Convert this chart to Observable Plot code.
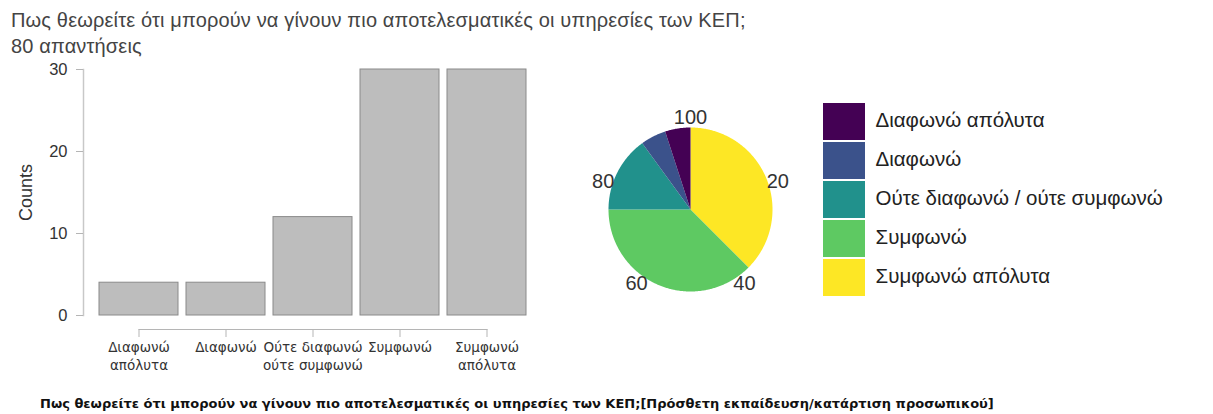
<!DOCTYPE html>
<html><head><meta charset="utf-8">
<script src="https://cdn.jsdelivr.net/npm/d3@7"></script>
<script src="https://cdn.jsdelivr.net/npm/@observablehq/plot@0.6"></script>
<style>
body{margin:0;background:#fff;font-family:"Liberation Sans",Arial,sans-serif;}
#root{position:relative;width:1213px;height:414px;overflow:hidden;background:#fff;}
.abs{position:absolute;}
#title{left:11px;top:7px;font-size:20px;letter-spacing:0.15px;color:#444;white-space:nowrap;line-height:26px;}
#caption{left:40px;top:396px;font-family:"DejaVu Sans",sans-serif;font-size:13px;font-weight:bold;color:#111;white-space:nowrap;}
</style></head><body>
<div id="root">
 <div id="title" class="abs"></div>
 <div id="bars" class="abs" style="left:0;top:0"></div>
 <div id="pie" class="abs" style="left:570px;top:89px"></div>
 <div id="legend" class="abs" style="left:810px;top:90px"></div>
 <div id="caption" class="abs"></div>
</div>
<script>
const titleText = "Πως θεωρείτε ότι μπορούν να γίνουν πιο αποτελεσματικές οι υπηρεσίες των ΚΕΠ;";
const subtitleText = "80 απαντήσεις";
const captionText = "Πως θεωρείτε ότι μπορούν να γίνουν πιο αποτελεσματικές οι υπηρεσίες των ΚΕΠ;[Πρόσθετη εκπαίδευση/κατάρτιση προσωπικού]";
const categories = ["Διαφωνώ απόλυτα","Διαφωνώ","Ούτε διαφωνώ / ούτε συμφωνώ","Συμφωνώ","Συμφωνώ απόλυτα"];
const barTickLabels = ["Διαφωνώ\nαπόλυτα","Διαφωνώ","Ούτε διαφωνώ\nούτε συμφωνώ","Συμφωνώ","Συμφωνώ\nαπόλυτα"];
const counts = [4,4,12,30,30];
const yTicks = [0,10,20,30];
const yLabel = "Counts";
const pieTicks = [20,40,60,80,100];
const colors = ["#440154","#3b528b","#21918c","#5ec962","#fde725"];

document.getElementById("title").innerHTML = titleText + "<br>" + subtitleText;
document.getElementById("caption").textContent = captionText;

const data = categories.map((c,i)=>({cat:c, count:counts[i]}));
const tickLabel = new Map(categories.map((c,i)=>[c, barTickLabels[i]]));

// Bar chart
const bars = Plot.plot({
  width: 560, height: 385,
  marginTop: 69, marginBottom: 70, marginLeft: 83, marginRight: 28,
  style: {fontFamily: "Liberation Sans, Arial, sans-serif", color: "#333", background: "transparent"},
  x: {domain: categories, range: [94, 532], paddingInner: 0.087, paddingOuter: 0.0435},
  y: {domain: [0,30]},
  marks: [
    Plot.frame({anchor: "left", stroke: "#c8c8c8", strokeWidth: 1.5}),
    Plot.barY(data, {x: "cat", y: "count", fill: "#bdbdbd", stroke: "#8a8a8a", strokeWidth: 1}),
    Plot.axisY({ticks: yTicks, tickSize: 7, tickPadding: 9, fontSize: 16.5, stroke: "#b5b5b5", fill: "#333",
      label: yLabel, labelAnchor: "center", labelOffset: 64, labelArrow: "none"}),
    Plot.axisX({tickSize: 8, tickPadding: 2, dy: 14, fontSize: 13.5, lineHeight: 1.33, stroke: "#b5b5b5", fill: "#333",
      fontFamily: "DejaVu Sans, sans-serif",
      tickFormat: d => tickLabel.get(d), label: null}),
    Plot.line(categories, {x: d => d, y: () => 0, dy: 14, stroke: "#b5b5b5", strokeWidth: 1.2})
  ]
});
bars.querySelectorAll("text").forEach(t => { if (t.textContent === yLabel) t.setAttribute("font-size", 18); });
document.getElementById("bars").appendChild(bars);

// Pie chart: slices clockwise from 12 o'clock, last category first
const pieData = data.slice().reverse();
const arcs = d3.pie().sort(null).value(d => d.count)(pieData);
const polys = [];
for (const a of arcs) {
  const n = Math.max(2, Math.ceil((a.endAngle - a.startAngle) / (Math.PI/360)));
  polys.push({cat: a.data.cat, px: 0, py: 0});
  for (let k = 0; k <= n; k++) {
    const t = a.startAngle + (a.endAngle - a.startAngle) * k / n;
    polys.push({cat: a.data.cat, px: Math.sin(t), py: Math.cos(t)});
  }
  polys.push({cat: a.data.cat, px: 0, py: 0});
}
const pie = Plot.plot({
  width: 240, height: 240, margin: 0,
  style: {fontFamily: "Liberation Sans, Arial, sans-serif", color: "#333", background: "transparent"},
  x: {domain: [-1,1], range: [38,202], axis: null},
  y: {domain: [-1,1], range: [202,38], axis: null},
  color: {domain: categories, range: colors},
  marks: [
    Plot.line(polys, {x: "px", y: "py", z: "cat", fill: "cat", stroke: "none", curve: "linear"}),
    Plot.text(pieTicks, {
      x: d => 1.12 * Math.sin(d/100*2*Math.PI),
      y: d => 1.12 * Math.cos(d/100*2*Math.PI),
      text: d => String(d), fontSize: 20, fill: "#333"})
  ]
});
document.getElementById("pie").appendChild(pie);

// Legend
const legend = Plot.plot({
  width: 403, height: 220, margin: 0,
  style: {fontFamily: "Liberation Sans, Arial, sans-serif", color: "#222", background: "transparent"},
  x: {domain: ["swatch"], range: [13,55], padding: 0, axis: null},
  y: {domain: categories, range: [10,210], padding: 0.05, axis: null},
  color: {domain: categories, range: colors},
  marks: [
    Plot.cell(categories, {x: () => "swatch", y: d => d, fill: d => d}),
    Plot.text(categories, {y: d => d, frameAnchor: "left", dx: 65, dy: -2, textAnchor: "start", fontSize: 20.5, fill: "#222"})
  ]
});
document.getElementById("legend").appendChild(legend);
</script>
</body></html>
